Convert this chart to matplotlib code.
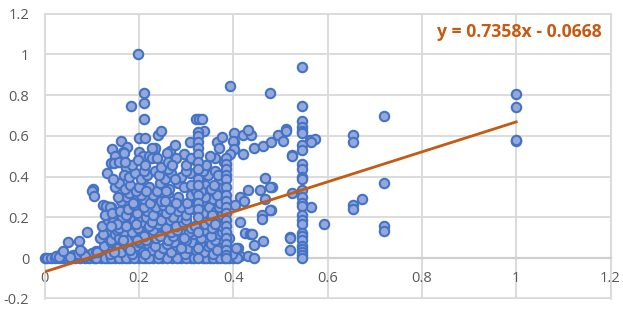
import matplotlib
matplotlib.use("Agg")
import matplotlib.pyplot as plt

# punti isolati
edge_x = [0.1975, 0.212, 0.183, 0.212, 0.212, 0.2, 0.213, 0.24, 0.248, 0.143, 0.162, 0.174, 0.167, 0.2, 0.23, 0.233,
          0.266, 0.277, 0.26, 0.295, 0.309, 0.322, 0.328, 0.334, 0.339, 0.366, 0.376, 0.371, 0.394, 0.402, 0.402,
          0.399, 0.402, 0.393, 0.42, 0.437, 0.432, 0.42, 0.445, 0.463, 0.48, 0.478, 0.495, 0.505, 0.511, 0.511, 0.524,
          0.563, 0.574, 0.565, 0.655, 0.655, 0.72, 1.0, 1.0, 1.0, 1.0, 0.72, 0.674, 0.655, 0.655, 0.593, 0.72, 0.72,
          0.566, 0.524, 0.52, 0.52, 0.52, 0.524, 0.482, 0.48, 0.467, 0.479, 0.457, 0.431, 0.414, 0.424, 0.467, 0.479,
          0.462, 0.462, 0.404, 0.414, 0.425, 0.435, 0.44, 0.445, 0.463, 0.415, 0.431, 0.41, 0.05, 0.074, 0.09, 0.103,
          0.101, 0.105, 0.132, 0.125, 0.13, 0.141, 0.15, 0.168, 0.14, 0.148, 0.158, 0.173, 0.208, 0.222, 0.234, 0.228]
edge_y = [1.0, 0.813, 0.748, 0.763, 0.682, 0.592, 0.592, 0.607, 0.622, 0.537, 0.574, 0.545, 0.52, 0.52, 0.527, 0.527,
          0.528, 0.556, 0.515, 0.51, 0.57, 0.685, 0.685, 0.685, 0.622, 0.57, 0.595, 0.54, 0.846, 0.615, 0.57,
          0.575, 0.535, 0.51, 0.605, 0.607, 0.628, 0.51, 0.54, 0.55, 0.57, 0.813, 0.605, 0.575, 0.635, 0.625, 0.505,
          0.578, 0.584, 0.569, 0.605, 0.571, 0.70, 0.805, 0.741, 0.574, 0.58, 0.371, 0.291, 0.262, 0.24, 0.169, 0.159, 0.134,
          0.25, 0.504, 0.038, 0.106, 0.097, 0.319, 0.352, 0.237, 0.394, 0.352, 0.336, 0.336, 0.299, 0.283, 0.291, 0.237,
          0.21, 0.193, 0.263, 0.177, 0.126, 0.118, 0.118, 0.066, 0.083, 0.012, 0.012, 0.05, 0.082, 0.087, 0.128, 0.342,
          0.332, 0.304, 0.419, 0.263, 0.258, 0.25, 0.50, 0.515, 0.467, 0.465, 0.47, 0.445, 0.50, 0.50, 0.54, 0.54]

# colonne verticali
col_x = [0.325, 0.385, 0.546]
col_y = [
    [0.62, 0.60, 0.57, 0.54, 0.51, 0.47, 0.44, 0.39, 0.36, 0.31, 0.27, 0.24, 0.2, 0.13, 0.05, 0.0],
    [0.49, 0.463, 0.44, 0.41, 0.39, 0.35, 0.31, 0.28, 0.25, 0.22, 0.19, 0.16, 0.13, 0.1, 0.07, 0.04, 0.015, 0.0],
    [0.94, 0.745, 0.672, 0.645, 0.625, 0.615, 0.556, 0.53, 0.463, 0.44, 0.397, 0.39, 0.335, 0.3, 0.27, 0.258, 0.21,
     0.19, 0.17, 0.125, 0.11, 0.09, 0.062, 0.045, 0.03, 0.015, 0.0],
]

# nuvola densa, fasce di y
b1_x = [0.112, 0.127, 0.138, 0.151, 0.162, 0.171, 0.186, 0.193, 0.208, 0.219, 0.227, 0.243, 0.252, 0.268, 0.281, 0.297,
        0.304, 0.322, 0.339, 0.347, 0.358, 0.372, 0.381, 0.398, 0.407, 0.14, 0.176, 0.213, 0.259, 0.312, 0.352,
        0.147, 0.181, 0.2, 0.235, 0.275, 0.29, 0.33, 0.365]
b1_y = [0.03, 0.06, 0.02, 0.05, 0.03, 0.07, 0.02, 0.06, 0.03, 0.07, 0.04, 0.02, 0.05, 0.03, 0.06, 0.02,
        0.05, 0.04, 0.03, 0.06, 0.02, 0.05, 0.03, 0.02, 0.05, 0.08, 0.05, 0.02, 0.07, 0.08, 0.07,
        0.03, 0.04, 0.08, 0.06, 0.08, 0.05, 0.07, 0.04]
b2_x = [0.118, 0.131, 0.142, 0.149, 0.158, 0.169, 0.178, 0.191, 0.203, 0.216, 0.224, 0.237, 0.249, 0.262, 0.273, 0.288,
        0.301, 0.316, 0.331, 0.344, 0.361, 0.369, 0.391, 0.166, 0.21, 0.255, 0.306,
        0.125, 0.153, 0.185, 0.197, 0.23, 0.244, 0.268, 0.28, 0.296, 0.338, 0.354, 0.376]
b2_y = [0.1, 0.13, 0.09, 0.12, 0.1, 0.13, 0.09, 0.11, 0.14, 0.09, 0.12, 0.1, 0.13, 0.09, 0.11, 0.13,
        0.09, 0.12, 0.1, 0.13, 0.09, 0.12, 0.1, 0.09, 0.11, 0.14, 0.13,
        0.12, 0.14, 0.13, 0.09, 0.14, 0.11, 0.13, 0.14, 0.1, 0.14, 0.11, 0.13]
b3_x = [0.121, 0.134, 0.146, 0.157, 0.164, 0.181, 0.189, 0.198, 0.209, 0.221, 0.233, 0.241, 0.257, 0.266, 0.279, 0.293,
        0.311, 0.328, 0.341, 0.355, 0.366, 0.377, 0.154, 0.2, 0.285, 0.35,
        0.14, 0.172, 0.194, 0.216, 0.227, 0.248, 0.272, 0.301, 0.319, 0.334, 0.361]
b3_y = [0.16, 0.19, 0.18, 0.15, 0.2, 0.17, 0.19, 0.15, 0.18, 0.16, 0.2, 0.17, 0.15, 0.19, 0.16, 0.18,
        0.15, 0.18, 0.17, 0.15, 0.2, 0.16, 0.17, 0.2, 0.2, 0.19,
        0.16, 0.16, 0.17, 0.2, 0.18, 0.19, 0.2, 0.19, 0.16, 0.2, 0.17]
b4_x = [0.128, 0.139, 0.144, 0.161, 0.172, 0.184, 0.196, 0.205, 0.218, 0.229, 0.246, 0.258, 0.274, 0.283, 0.299, 0.318,
        0.336, 0.349, 0.363, 0.376, 0.178, 0.19, 0.212, 0.236, 0.252, 0.266, 0.29, 0.306, 0.328, 0.356, 0.37]
b4_y = [0.21, 0.25, 0.22, 0.23, 0.21, 0.25, 0.22, 0.26, 0.23, 0.21, 0.24, 0.22, 0.25, 0.23, 0.21, 0.24,
        0.22, 0.25, 0.23, 0.21, 0.24, 0.26, 0.25, 0.25, 0.26, 0.24, 0.25, 0.24, 0.26, 0.21, 0.25]
b5_x = [0.163, 0.174, 0.188, 0.199, 0.212, 0.223, 0.236, 0.247, 0.261, 0.271, 0.284, 0.303, 0.319, 0.333, 0.346, 0.358,
        0.373, 0.382, 0.155, 0.18, 0.205, 0.23, 0.255, 0.278, 0.31, 0.34, 0.365]
b5_y = [0.28, 0.3, 0.27, 0.31, 0.29, 0.27, 0.3, 0.28, 0.31, 0.28, 0.3, 0.27, 0.3, 0.28, 0.31, 0.29,
        0.27, 0.3, 0.3, 0.32, 0.31, 0.31, 0.28, 0.27, 0.31, 0.3, 0.31]
b6_x = [0.15, 0.158, 0.17, 0.182, 0.193, 0.208, 0.222, 0.239, 0.251, 0.265, 0.282, 0.296, 0.321, 0.341, 0.352, 0.368, 0.379,
        0.2, 0.215, 0.245, 0.258, 0.31, 0.332, 0.36]
b6_y = [0.35, 0.37, 0.34, 0.36, 0.33, 0.37, 0.35, 0.33, 0.36, 0.34, 0.37, 0.35, 0.33, 0.36, 0.34, 0.37, 0.35,
        0.35, 0.33, 0.37, 0.33, 0.36, 0.33, 0.36]
b7_x = [0.146, 0.168, 0.179, 0.192, 0.204, 0.217, 0.234, 0.255, 0.269, 0.289, 0.308, 0.327, 0.347, 0.361, 0.374,
        0.21, 0.242, 0.262, 0.276, 0.3, 0.336, 0.368]
b7_y = [0.39, 0.41, 0.4, 0.42, 0.39, 0.41, 0.43, 0.39, 0.42, 0.4, 0.42, 0.39, 0.41, 0.43, 0.39,
        0.43, 0.41, 0.44, 0.39, 0.43, 0.43, 0.41]
b8_x = [0.186, 0.198, 0.214, 0.228, 0.247, 0.262, 0.279, 0.3, 0.32, 0.343, 0.362, 0.38, 0.17, 0.238, 0.27, 0.31, 0.35]
b8_y = [0.46, 0.48, 0.46, 0.49, 0.45, 0.47, 0.49, 0.46, 0.48, 0.46, 0.49, 0.47, 0.47, 0.49, 0.46, 0.49, 0.5]

# riga sullo zero e punti bassi a sinistra
base_x = [0.0, 0.006, 0.014, 0.022, 0.03, 0.038, 0.045, 0.055, 0.065, 0.075, 0.085, 0.095, 0.105, 0.12, 0.135, 0.15, 0.165, 0.18,
          0.2, 0.215, 0.23, 0.25, 0.27, 0.29, 0.31, 0.335, 0.35, 0.365, 0.38, 0.4, 0.445, 0.11, 0.128, 0.142, 0.157, 0.172, 0.19,
          0.208, 0.222, 0.24, 0.26, 0.28, 0.3, 0.318, 0.342, 0.358, 0.373, 0.392, 0.408,
          0.025, 0.035, 0.045, 0.06, 0.07, 0.08, 0.09, 0.1, 0.03, 0.055, 0.085, 0.04, 0.075, 0.11]
base_y = [0.0] * 49 + [0.01, 0.02, 0.01, 0.015, 0.02, 0.03, 0.015, 0.025, 0.005, 0.005, 0.01, 0.035, 0.04, 0.035]

slope = 0.7358
intercept = -0.0668
trend_x = [0, 1]

x_ticks = [0, 0.2, 0.4, 0.6, 0.8, 1, 1.2]
y_ticks = [-0.2, 0, 0.2, 0.4, 0.6, 0.8, 1, 1.2]

plt.rcParams['font.family'] = ['Open Sans', 'DejaVu Sans']

xs = edge_x + base_x + b1_x + b2_x + b3_x + b4_x + b5_x + b6_x + b7_x + b8_x
ys = edge_y + base_y + b1_y + b2_y + b3_y + b4_y + b5_y + b6_y + b7_y + b8_y
for x, vals in zip(col_x, col_y):
    xs = xs + [x] * len(vals)
    ys = ys + vals

W, H = 623, 310
fig = plt.figure(figsize=(W / 100, H / 100), dpi=100)
ax = fig.add_axes([44.5 / W, 1 - 299 / H, 566 / W, 285.3 / H])

ax.scatter(xs, ys, s=46, facecolor='#94A8DC', edgecolor='#4472C4', linewidth=1.5, zorder=3, clip_on=False)
ax.plot(trend_x, [slope * x + intercept for x in trend_x], color='#C55A11', linewidth=2, zorder=4)

ax.set_xlim(0, 1.2)
ax.set_ylim(-0.2, 1.2)
ax.set_xticks(x_ticks, [str(v) for v in x_ticks])
ax.set_yticks(y_ticks, [str(v) for v in y_ticks])
ax.grid(True, color='#D9D9D9', linewidth=1.3, zorder=0)
ax.set_axisbelow(True)

for side in ['top', 'right', 'left']:
    ax.spines[side].set_color('#D9D9D9')
    ax.spines[side].set_linewidth(1.3)
ax.spines['bottom'].set_position(('data', 0))
ax.spines['bottom'].set_color('#CFCFCF')
ax.spines['bottom'].set_linewidth(1.6)
ax.axhline(-0.2, color='#D9D9D9', linewidth=2.6, zorder=1)
ax.tick_params(length=0, labelsize=10.5, labelcolor='#595959')
ax.tick_params(axis='x', pad=9)
ax.tick_params(axis='y', pad=11)

ax.text(601.7 / W, 1 - 32 / H, 'y = 0.7358x - 0.0668', transform=fig.transFigure, ha='right', va='center',
        fontsize=12.7, fontweight='bold', color='#C55A11')

fig.savefig('out.png', dpi=100)
